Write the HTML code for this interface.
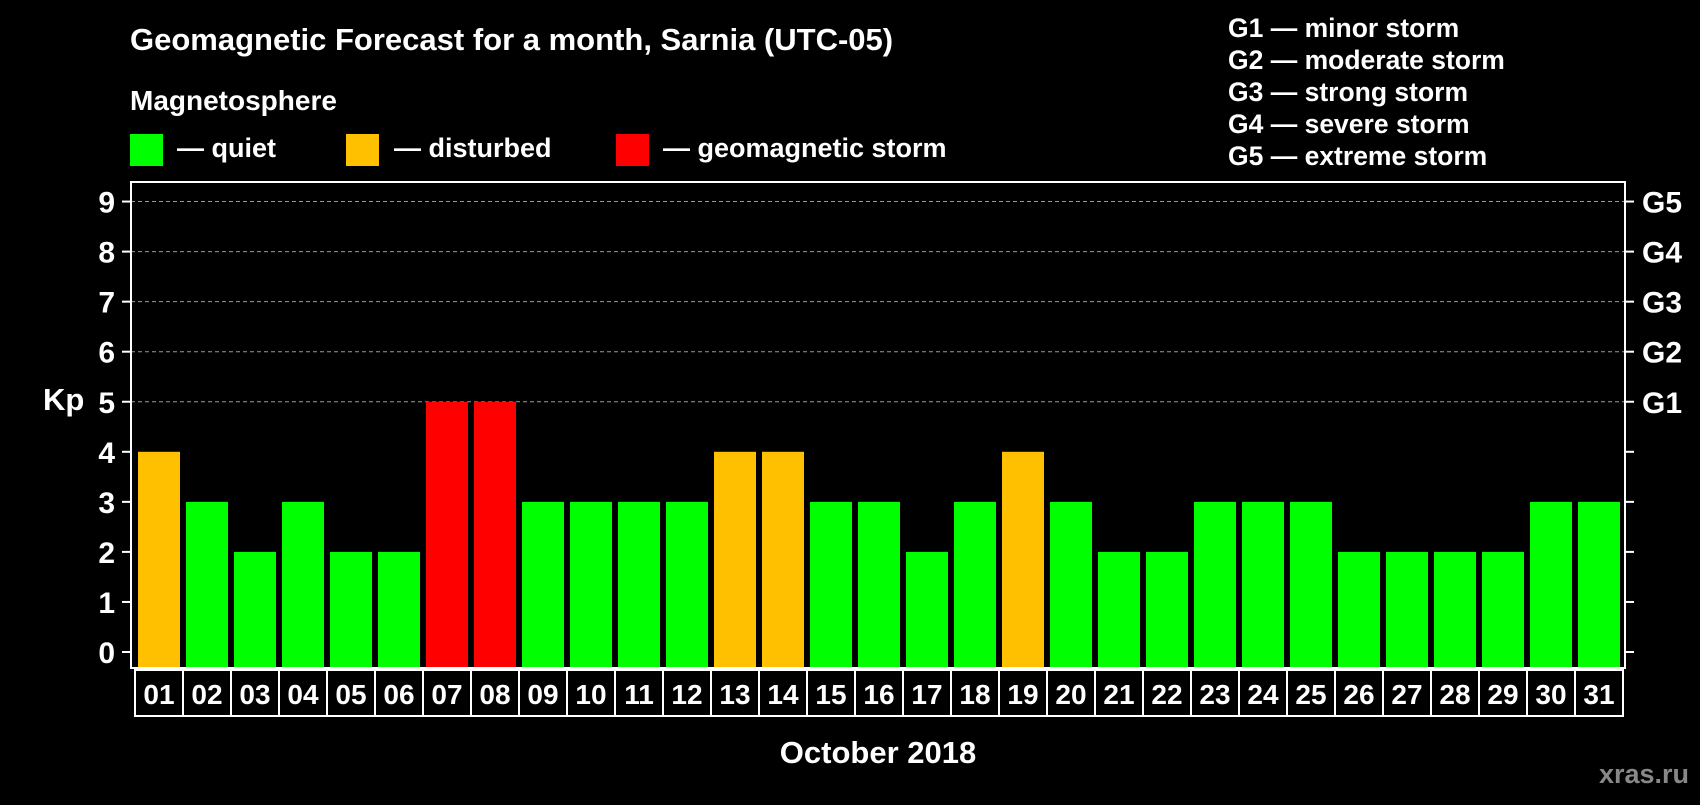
<!DOCTYPE html>
<html><head><meta charset="utf-8"><style>
body{margin:0;background:#000;width:1700px;height:800px;overflow:hidden;font-family:"Liberation Sans",sans-serif;font-weight:bold;color:#fff}
svg text{font-family:"Liberation Sans",sans-serif;font-weight:bold;fill:#fff}
</style></head><body>
<svg width="1700" height="800">
<g id="texts">
<text x="130" y="50" font-size="31">Geomagnetic Forecast for a month, Sarnia (UTC-05)</text>
<text x="130" y="110" font-size="28">Magnetosphere</text>
<rect x="130" y="134" width="33" height="32" fill="#00ff00"/>
<text x="177" y="157" font-size="27">— quiet</text>
<rect x="346" y="134" width="33" height="32" fill="#ffc000"/>
<text x="394" y="157" font-size="27">— disturbed</text>
<rect x="616" y="134" width="33" height="32" fill="#ff0000"/>
<text x="663" y="157" font-size="27">— geomagnetic storm</text>
<g font-size="26.5">
<text x="1228" y="37">G1 — minor storm</text>
<text x="1228" y="69">G2 — moderate storm</text>
<text x="1228" y="101">G3 — strong storm</text>
<text x="1228" y="133">G4 — severe storm</text>
<text x="1228" y="165">G5 — extreme storm</text>
</g>
<text x="43" y="410" font-size="31">Kp</text>
<text x="878" y="763" font-size="31" text-anchor="middle">October 2018</text>
<text x="1689" y="783" font-size="27" text-anchor="end" style="fill:#888">xras.ru</text>
</g>
<g id="plot"></g>
</svg>
<script>
const days=["01","02","03","04","05","06","07","08","09","10","11","12","13","14","15","16","17","18","19","20","21","22","23","24","25","26","27","28","29","30","31"];
const kpValues=[4,3,2,3,2,2,5,5,3,3,3,3,4,4,3,3,2,3,4,3,2,2,3,3,3,2,2,2,2,3,3];
const yTicks=[0,1,2,3,4,5,6,7,8,9];
const gLabels=["G1","G2","G3","G4","G5"];
const NS="http://www.w3.org/2000/svg";
const g=document.getElementById('plot');
const L=131,R=1625,T=182,B=668;
const y=v=>652-v*50.05;
const x=i=>138+i*48;
function mk(t,a){const e=document.createElementNS(NS,t);for(const k in a)e.setAttribute(k,a[k]);g.appendChild(e);return e;}
yTicks.forEach(v=>{
  if(v>=5){const l=mk('line',{x1:L,x2:R,y1:y(v),y2:y(v),stroke:'#999','stroke-dasharray':'4 3','stroke-width':1});
  
  }
  const t1=mk('line',{x1:122,x2:L,y1:y(v),y2:y(v),stroke:'#fff','stroke-width':2});
  
  
  const t2=mk('line',{x1:R,x2:1634,y1:y(v),y2:y(v),stroke:'#fff','stroke-width':2});
  
  
  const tx=mk('text',{x:115,y:y(v)+11,'font-size':30,'text-anchor':'end'});tx.textContent=v;
  
  
});
gLabels.forEach((s,i)=>{
  const tx=mk('text',{x:1642,y:y(5+i)+11,'font-size':30});tx.textContent=s;
  
  
});
kpValues.forEach((v,i)=>{
  const c=v>=5?'#ff0000':(v>=4?'#ffc000':'#00ff00');
  const r=mk('rect',{x:x(i),y:y(v),width:42,height:B-y(v),fill:c});
  
  
  const cell=mk('rect',{x:135+i*48,y:670,width:48,height:46,fill:'none',stroke:'#fff','stroke-width':2});
  
  
  const tx=mk('text',{x:x(i)+21,y:704,'font-size':28,'text-anchor':'middle'});tx.textContent=days[i];
  
  
});
const box=mk('rect',{x:L,y:T,width:R-L,height:B-T,fill:'none',stroke:'#fff','stroke-width':2});


</script>
</body></html>
